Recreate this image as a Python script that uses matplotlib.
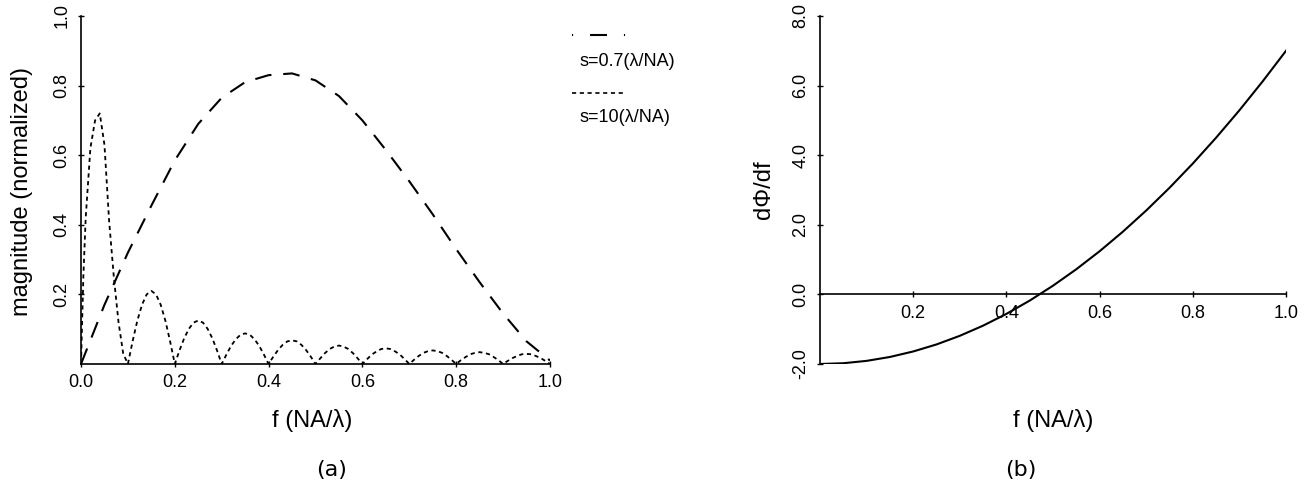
import numpy as np
import matplotlib
matplotlib.use('Agg')
import matplotlib.pyplot as plt

plt.rcParams['font.family'] = ['Liberation Sans', 'DejaVu Sans']
plt.rcParams['lines.scale_dashes'] = False

# panel (a): magnitude vs f, two source sizes
f_s07 = np.round(np.arange(0, 21) * 0.05, 2)
mag_s07 = [0.0, 0.17, 0.32, 0.455, 0.585, 0.69, 0.765, 0.81, 0.83, 0.835, 0.815,
           0.77, 0.70, 0.615, 0.525, 0.43, 0.33, 0.235, 0.145, 0.065, 0.01]

f_s10_lobe1 = [0.0, 0.005, 0.01, 0.02, 0.03, 0.04, 0.05, 0.06, 0.07, 0.08, 0.09]
mag_s10_lobe1 = [0.0, 0.25, 0.42, 0.62, 0.70, 0.72, 0.63, 0.41, 0.25, 0.12, 0.03]
f_s10_rest = np.arange(10, 101) / 100
mag_s10_rest = [
    0.0, 0.065, 0.124, 0.17, 0.20, 0.21, 0.20, 0.17, 0.124, 0.065,
    0.0, 0.039, 0.074, 0.101, 0.119, 0.125, 0.119, 0.101, 0.074, 0.039,
    0.0, 0.027, 0.052, 0.071, 0.084, 0.088, 0.084, 0.071, 0.052, 0.027,
    0.0, 0.021, 0.040, 0.055, 0.065, 0.068, 0.065, 0.055, 0.040, 0.021,
    0.0, 0.016, 0.031, 0.043, 0.050, 0.053, 0.050, 0.043, 0.031, 0.016,
    0.0, 0.014, 0.027, 0.036, 0.043, 0.045, 0.043, 0.036, 0.027, 0.014,
    0.0, 0.012, 0.023, 0.032, 0.037, 0.039, 0.037, 0.032, 0.023, 0.012,
    0.0, 0.011, 0.020, 0.028, 0.032, 0.034, 0.032, 0.028, 0.020, 0.011,
    0.0, 0.009, 0.017, 0.023, 0.028, 0.029, 0.028, 0.023, 0.017, 0.009,
    0.0]
f_s10 = np.concatenate([f_s10_lobe1, f_s10_rest])
mag_s10 = mag_s10_lobe1 + mag_s10_rest

# panel (b): dPhi/df
f_b = np.round(np.arange(0, 21) * 0.05, 2)
dphi = [-2.0, -1.978, -1.91, -1.798, -1.64, -1.438, -1.19, -0.898, -0.56, -0.178, 0.25,
        0.723, 1.24, 1.803, 2.41, 3.063, 3.76, 4.503, 5.29, 6.123, 7.0]

labels = ['s=0.7(\u03bb/NA)', 's=10(\u03bb/NA)']
tick_fs = 13
lab_fs = 17

fig = plt.figure(figsize=(13.06, 4.99), dpi=100)
W, H = 1306, 499

# %% panel (a)
ax1 = fig.add_axes([81 / W, 1 - 364 / H, 469 / W, 348 / H])
ax1.plot(f_s07, mag_s07, color='black', lw=1.5, linestyle=(0, (12, 8.5)))
ax1.plot(f_s10, mag_s10, color='black', lw=1.3, linestyle=(0, (3, 2.6)))
ax1.set_xlim(0, 1)
ax1.set_ylim(0, 1)
ax1.spines[['top', 'right']].set_visible(False)
ax1.set_xticks([0.0, 0.2, 0.4, 0.6, 0.8, 1.0])
ax1.set_xticklabels(['0.0', '0.2', '0.4', '0.6', '0.8', '1.0'], fontsize=tick_fs)
ax1.set_yticks([0.2, 0.4, 0.6, 0.8, 1.0])
ax1.set_yticklabels(['0.2', '0.4', '0.6', '0.8', '1.0'], fontsize=tick_fs,
                    rotation=90, va='center')

# legend drawn by hand, outside the axes
leg_x0, leg_x1 = 572 / W, 626 / W
fig.add_artist(plt.Line2D([leg_x0, leg_x1], [1 - 35 / H] * 2, color='black', lw=1.5,
                          linestyle=(0, (0.8, 12.2, 12.2, 12.2)), transform=fig.transFigure))
fig.add_artist(plt.Line2D([leg_x0, leg_x1], [1 - 93 / H] * 2, color='black', lw=1.2,
                          linestyle=(0, (3, 2.6)), transform=fig.transFigure))
fig.text(580 / W, 1 - 62 / H, labels[0], fontsize=13, va='center', ha='left')
fig.text(580 / W, 1 - 117 / H, labels[1], fontsize=13, va='center', ha='left')

fig.text(22 / W, 1 - 191 / H, 'magnitude (normalized)', fontsize=lab_fs,
         rotation=90, ha='center', va='center')
fig.text(312 / W, 1 - 420 / H, 'f (NA/\u03bb)', fontsize=lab_fs, ha='center', va='center')
fig.text(332 / W, 1 - 470 / H, '(a)', fontsize=16, ha='center', va='center',
         family='DejaVu Sans')

# %% panel (b)
ax2 = fig.add_axes([820 / W, 1 - 364 / H, 466 / W, 348 / H])
ax2.plot(f_b, dphi, color='black', lw=1.5)
ax2.set_xlim(0, 1)
ax2.set_ylim(-2, 8)
ax2.spines[['top', 'right']].set_visible(False)
ax2.spines['bottom'].set_position(('data', 0))
ax2.set_xticks([0.2, 0.4, 0.6, 0.8, 1.0])
ax2.set_xticklabels(['0.2', '0.4', '0.6', '0.8', '1.0'], fontsize=tick_fs)
ax2.set_yticks([-2, 0, 2, 4, 6, 8])
ax2.set_yticklabels(['-2.0', '0.0', '2.0', '4.0', '6.0', '8.0'], fontsize=tick_fs,
                    rotation=90, va='center')

fig.text(764 / W, 1 - 190 / H, 'd\u03a6/df', fontsize=lab_fs,
         rotation=90, ha='center', va='center')
fig.text(1053 / W, 1 - 420 / H, 'f (NA/\u03bb)', fontsize=lab_fs, ha='center', va='center')
fig.text(1021 / W, 1 - 470 / H, '(b)', fontsize=16, ha='center', va='center',
         family='DejaVu Sans')

for ax in (ax1, ax2):
    for s in ('left', 'bottom'):
        ax.spines[s].set_linewidth(1.2)
    ax.tick_params(direction='inout', length=5, width=1.0, pad=5)

fig.savefig('out.png', dpi=100)
